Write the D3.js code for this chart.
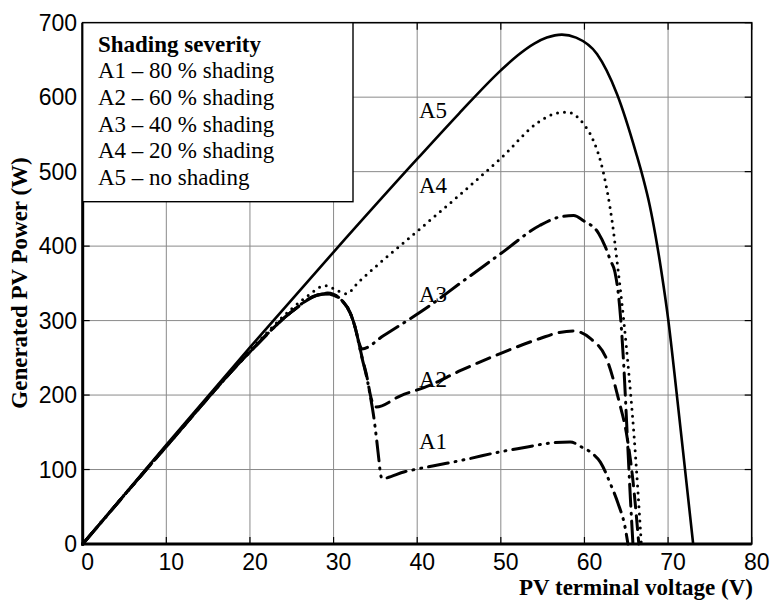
<!DOCTYPE html>
<html>
<head>
<meta charset="utf-8">
<script src="https://cdn.jsdelivr.net/npm/d3@7"></script>
<style>
body{margin:0;background:#fff;}
svg{display:block;}
</style>
</head>
<body>
<svg width="773" height="601"></svg>
<script>
// PV power vs terminal voltage, five shading levels

// tick values
var xTicks = [0,10,20,30,40,50,60,70,80];
var yTicks = [0,100,200,300,400,500,600,700];

// legend lines
var legendTitle = "Shading severity";
var legendRows = ["A1 \u2013 80 % shading","A2 \u2013 60 % shading","A3 \u2013 40 % shading","A4 \u2013 20 % shading","A5 \u2013 no shading"];

// series [voltage V, power W]
var a5 = [[0,0],[10,133],[20,264],[30,392],[40,517],[45,578],[50,636],[52,656],[54,672],[55.5,680],[57.3,684],[59,680],[61.5,658],[63.9,604],[66.2,524],[67,492],[67.8,455],[68.5,414],[69.2,366],[70,303],[71,205],[72,103],[73,0]];
var a4 = [[0,0],[10,132],[20,260],[25,316],[27,334],[29,347],[30.5,340],[31.5,336],[33,352],[35.9,381],[40,420],[45,468],[50,518],[54.7,568],[56.5,578],[57.9,580],[59.9,564],[60.9,546],[62.3,497],[63.3,434],[64,370],[64.7,300],[65.3,230],[65.9,150],[66.4,70],[66.8,0]];
var a3 = [[0,0],[10,131],[20,258],[25,312],[28,334],[29.5,336],[31,327],[32,310],[32.6,290],[33,272],[33.4,262],[36,280],[39.1,302],[41.5,320],[45,349],[50,390],[54.7,428],[57,439],[58.7,441],[59.9,434],[61.7,417],[62.5,399],[63.1,381],[63.65,365],[64.2,320],[64.7,240],[65.1,150],[65.5,60],[65.8,0]];
var a2 = [[0,0],[10,131],[20,258],[25,312],[28,334],[29.3,337],[31,327],[32,310],[32.6,290],[33.4,251],[34,224],[34.4,200],[34.8,186],[35.1,184],[38,199],[41.5,213],[45,232],[50,256],[54.7,276],[57,284],[58.7,286],[60.7,276],[62.7,247],[64.2,189],[65,150],[65.8,85],[66.5,0]];
var a1 = [[0,0],[10,131],[20,258],[25,312],[28,334],[29,336],[30,334],[31,327],[32,310],[32.6,290],[33,270],[33.4,250],[34,222],[34.4,198],[34.75,175],[35.15,140],[35.4,115],[35.6,95],[35.8,88],[38.5,97],[42,105],[46,114],[50,124],[53,130],[55.5,135],[58.3,137],[59.7,130],[60.9,122],[61.9,110],[63.1,81],[64,55],[64.85,23],[65.2,0]];

var series = [
    {name:"A5",data:a5,dash:null,w:2.6,lab:[419,118]},
    {name:"A4",data:a4,dash:"0 7",w:3,lab:[419,193]},
    {name:"A3",data:a3,dash:"22 7 1 7",w:3,lab:[419,302]},
    {name:"A2",data:a2,dash:"14 8",w:3,lab:[419,387]},
    {name:"A1",data:a1,dash:"20 7 1 7 1 7",w:3,lab:[419,449]}
];

var svg = d3.select("svg");

var x = d3.scaleLinear().domain([0,80]).range([82.7,751.7]);
var y = d3.scaleLinear().domain([0,700]).range([544,22.7]);

var serif = "'Liberation Serif','Times New Roman',serif";
var sans = "'Liberation Sans',Arial,sans-serif";

//网格
svg.append("g").selectAll("line").data(xTicks.slice(1,-1)).enter()
    .append("line")
    .attr("x1",d=>x(d)).attr("x2",d=>x(d))
    .attr("y1",y(0)).attr("y2",y(700))
    .attr("stroke","#8a8a8a").attr("stroke-width",1);
svg.append("g").selectAll("line").data(yTicks.slice(1,-1)).enter()
    .append("line")
    .attr("y1",d=>y(d)).attr("y2",d=>y(d))
    .attr("x1",x(0)).attr("x2",x(80))
    .attr("stroke","#8a8a8a").attr("stroke-width",1);

// inside ticks, all four sides
var tk = 7;
var ticks = svg.append("g").attr("stroke","#000").attr("stroke-width",1.2);
xTicks.forEach(function(d){
    ticks.append("line").attr("x1",x(d)).attr("x2",x(d)).attr("y1",y(0)).attr("y2",y(0)-tk);
    ticks.append("line").attr("x1",x(d)).attr("x2",x(d)).attr("y1",y(700)).attr("y2",y(700)+tk);
});
yTicks.forEach(function(d){
    ticks.append("line").attr("y1",y(d)).attr("y2",y(d)).attr("x1",x(0)).attr("x2",x(0)+tk);
    ticks.append("line").attr("y1",y(d)).attr("y2",y(d)).attr("x1",x(80)).attr("x2",x(80)-tk);
});

// frame: thin top/right, heavy left/bottom
svg.append("rect")
    .attr("x",x(0)).attr("y",y(700))
    .attr("width",x(80)-x(0)).attr("height",y(0)-y(700))
    .attr("fill","none").attr("stroke","#000").attr("stroke-width",1.6);

// curves
var line = d3.line()
    .x(d=>x(d[0]))
    .y(d=>y(d[1]))
    .curve(d3.curveMonotoneX);

svg.append("g").selectAll("path").data(series).enter()
    .append("path")
    .attr("d",d=>line(d.data))
    .attr("fill","none")
    .attr("stroke","#000")
    .attr("stroke-width",d=>d.w)
    .attr("stroke-linecap",d=>d.dash ? "round" : "butt")
    .attr("stroke-linejoin","round")
    .attr("stroke-dasharray",d=>d.dash);

// curve labels
svg.append("g").selectAll("text").data(series).enter()
    .append("text")
    .attr("x",d=>d.lab[0])
    .attr("y",d=>d.lab[1])
    .attr("font-family",serif)
    .attr("font-size",23)
    .attr("fill","#000")
    .text(d=>d.name);

svg.append("line")
    .attr("x1",x(0)).attr("x2",x(0)).attr("y1",y(0)+1.5).attr("y2",y(700))
    .attr("stroke","#000").attr("stroke-width",3);
svg.append("line")
    .attr("x1",x(0)-1.5).attr("x2",x(80)).attr("y1",y(0)).attr("y2",y(0))
    .attr("stroke","#000").attr("stroke-width",3);

//刻度文字
svg.append("g").selectAll("text").data(xTicks).enter()
    .append("text")
    .attr("x",d=>x(d)+5)
    .attr("y",570)
    .attr("text-anchor","middle")
    .attr("font-family",sans)
    .attr("font-size",23)
    .text(d=>d);
svg.append("g").selectAll("text").data(yTicks).enter()
    .append("text")
    .attr("x",77)
    .attr("y",d=>y(d))
    .attr("dy","0.36em")
    .attr("text-anchor","end")
    .attr("font-family",sans)
    .attr("font-size",23)
    .text(d=>d);

// axis titles
svg.append("text")
    .attr("x",636)
    .attr("y",595)
    .attr("text-anchor","middle")
    .attr("font-family",serif)
    .attr("font-weight","bold")
    .attr("font-size",23)
    .text("PV terminal voltage (V)");
svg.append("text")
    .attr("transform","translate(27,283) rotate(-90)")
    .attr("text-anchor","middle")
    .attr("font-family",serif)
    .attr("font-weight","bold")
    .attr("font-size",23)
    .text("Generated PV Power (W)");

//图例
var lg = svg.append("g");
lg.append("rect")
    .attr("x",x(0)).attr("y",y(700))
    .attr("width",353-x(0)).attr("height",201.7-y(700))
    .attr("fill","#fff").attr("stroke","#000").attr("stroke-width",1.4);
lg.append("text")
    .attr("x",98).attr("y",51.7)
    .attr("font-family",serif).attr("font-weight","bold").attr("font-size",23)
    .text(legendTitle);
lg.selectAll(".row").data(legendRows).enter()
    .append("text")
    .attr("class","row")
    .attr("x",98)
    .attr("y",(d,i)=>78.3+i*26.7)
    .attr("font-family",serif).attr("font-size",23)
    .text(d=>d);
</script>
</body>
</html>
